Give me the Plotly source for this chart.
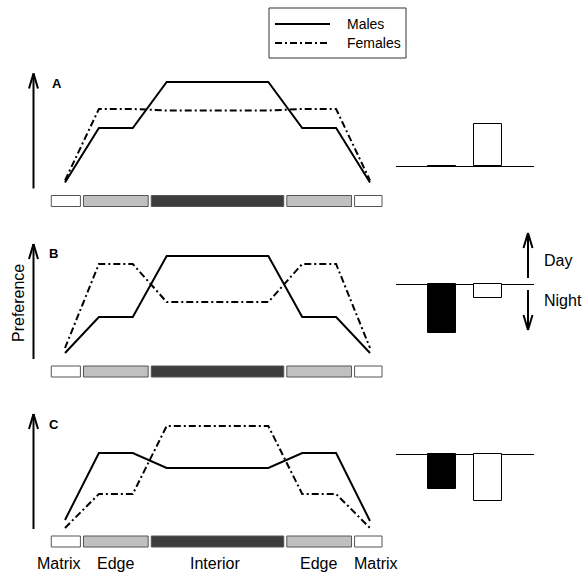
import plotly.graph_objects as go

# ---- data -------------------------------------------------------------
# positions along the transect (matrix | edge | interior | edge | matrix)
transect_x = [0, 1, 2, 3, 6, 7, 8, 9]

# relative preference along the transect, one list per scenario
males_A = [0.0, 5.45, 5.45, 10.05, 10.05, 5.45, 5.45, 0.0]
females_A = [0.2, 7.35, 7.35, 7.2, 7.2, 7.35, 7.35, 0.2]

males_B = [0.0, 3.6, 3.6, 9.7, 9.7, 3.6, 3.6, 0.0]
females_B = [0.5, 8.9, 8.9, 5.1, 5.1, 8.9, 8.9, 0.5]

males_C = [0.3, 7.0, 7.0, 5.5, 5.5, 7.0, 7.0, 0.2]
females_C = [-0.5, 2.9, 2.9, 9.7, 9.7, 2.9, 2.9, -0.5]

# habitat strip
habitat_names = ["Matrix", "Edge", "Interior", "Edge", "Matrix"]
habitat_bounds = [-0.45, 0.5, 2.5, 6.5, 8.5, 9.4]
habitat_colors = ["#ffffff", "#c0c0c0", "#3c3c3c", "#c0c0c0", "#ffffff"]
habitat_label_x = [-0.19, 1.5, 4.43, 7.49, 9.18]

# day/night difference (black = males, white = females)
bar_x = [1, 2]
diff_A = [-0.1, 4.2]
diff_B = [-4.9, -1.4]
diff_C = [-3.5, -4.7]

panel_letters = ["A", "B", "C"]

# ---- layout helpers ---------------------------------------------------
W, H = 583, 574
FONT = "Liberation Sans, Arial, Helvetica, sans-serif"


def fx(px):
    return px / W


def fy(py):
    return 1 - py / H


unit = (370 - 65) / 9.0                 # pixels per transect step
strip_tops = [195.5, 366, 536]          # top of the habitat strip in each row
bar_baselines = [166, 284, 454]         # zero line of the small bar charts
letter_pos = [(57, 83), (53, 254), (54, 424)]

fig = go.Figure()
shapes = []
annotations = []
layout_axes = {}

lines = [(males_A, females_A), (males_B, females_B), (males_C, females_C)]
diffs = [diff_A, diff_B, diff_C]

for i in range(3):
    n = i + 1
    xa = "x" if n == 1 else f"x{n}"
    ya = "y" if n == 1 else f"y{n}"
    top = strip_tops[i]
    males, females = lines[i]

    fig.add_trace(go.Scatter(x=transect_x, y=males, mode="lines",
                             line=dict(color="black", width=2),
                             xaxis=xa, yaxis=ya, showlegend=False,
                             hoverinfo="skip"))
    fig.add_trace(go.Scatter(x=transect_x, y=females, mode="lines",
                             line=dict(color="black", width=2,
                                       dash="7px,3px,2px,3px"),
                             xaxis=xa, yaxis=ya, showlegend=False,
                             hoverinfo="skip"))

    layout_axes["xaxis" if n == 1 else f"xaxis{n}"] = dict(
        domain=[fx(40), fx(395)],
        range=[(40 - 65) / unit, (395 - 65) / unit],
        visible=False, anchor=ya)
    layout_axes["yaxis" if n == 1 else f"yaxis{n}"] = dict(
        domain=[fy(top + 15), fy(top - 130)],
        range=[-2.8, 11.7], visible=False, anchor=xa)

    # habitat strip under the curves
    gap = 0.045
    for k in range(len(habitat_names)):
        shapes.append(dict(type="rect", xref=xa, yref=ya,
                           x0=habitat_bounds[k] + gap,
                           x1=habitat_bounds[k + 1] - gap,
                           y0=-2.4, y1=-1.3,
                           fillcolor=habitat_colors[k],
                           line=dict(color="#555555", width=1), layer="above"))

    # small day/night bar chart
    m = n + 3
    bxa, bya = f"x{m}", f"y{m}"
    fig.add_trace(go.Bar(x=bar_x, y=diffs[i], width=0.61,
                         marker=dict(color=["black", "white"],
                                     line=dict(color="black", width=1)),
                         xaxis=bxa, yaxis=bya, showlegend=False,
                         hoverinfo="skip"))
    b0 = bar_baselines[i]
    layout_axes[f"xaxis{m}"] = dict(domain=[fx(396), fx(534)], range=[0, 3],
                                    visible=False, anchor=bya)
    layout_axes[f"yaxis{m}"] = dict(domain=[fy(b0 + 60), fy(b0 - 60)],
                                    range=[-6, 6], anchor=bxa,
                                    showgrid=False, showticklabels=False,
                                    showline=False, ticks="",
                                    zeroline=True, zerolinecolor="black",
                                    zerolinewidth=1.3)

    # panel letter
    lx, ly = letter_pos[i]
    annotations.append(dict(x=fx(lx), y=fy(ly), xref="paper", yref="paper",
                            text=f"<b>{panel_letters[i]}</b>", showarrow=False,
                            xanchor="center", yanchor="middle",
                            font=dict(family=FONT, size=13, color="black")))


def arrow(x, y_tail, y_head, head_len=15, half_w=4.5, width=2):
    """Vertical arrow with an open chevron head, in pixel coordinates."""
    s = 1 if y_head > y_tail else -1
    base = y_head - s * head_len
    for x0, y0, x1, y1 in [(x, y_tail, x, y_head),
                           (x - half_w, base, x, y_head),
                           (x + half_w, base, x, y_head)]:
        shapes.append(dict(type="line", xref="paper", yref="paper",
                           x0=fx(x0), y0=fy(y0), x1=fx(x1), y1=fy(y1),
                           line=dict(color="black", width=width)))


# preference arrows at the left of each row
for top in strip_tops:
    arrow(33.5, top - 7, top - 122)

# day / night arrows
arrow(528, 278, 233)
arrow(528, 290, 330)
annotations.append(dict(x=fx(542), y=fy(260), xref="paper", yref="paper",
                        text="Day", showarrow=False, xanchor="left",
                        yanchor="middle",
                        font=dict(family=FONT, size=16, color="black")))
annotations.append(dict(x=fx(542), y=fy(300), xref="paper", yref="paper",
                        text="Night", showarrow=False, xanchor="left",
                        yanchor="middle",
                        font=dict(family=FONT, size=16, color="black")))

# y label
annotations.append(dict(x=fx(18), y=fy(303), xref="paper", yref="paper",
                        text="Preference", textangle=-90, showarrow=False,
                        xanchor="center", yanchor="middle",
                        font=dict(family=FONT, size=16, color="black")))

# habitat names under the last row
for name, x in zip(habitat_names, habitat_label_x):
    annotations.append(dict(x=x, y=fy(563), xref="x3", yref="paper",
                            text=name, showarrow=False, xanchor="center",
                            yanchor="middle",
                            font=dict(family=FONT, size=16, color="black")))

# key box
shapes.append(dict(type="rect", xref="paper", yref="paper",
                   x0=fx(269), x1=fx(406), y0=fy(58), y1=fy(8),
                   line=dict(color="#333333", width=1), fillcolor="white",
                   layer="below"))
shapes.append(dict(type="line", xref="paper", yref="paper",
                   x0=fx(275), x1=fx(330), y0=fy(24), y1=fy(24),
                   line=dict(color="black", width=2)))
shapes.append(dict(type="line", xref="paper", yref="paper",
                   x0=fx(275), x1=fx(330), y0=fy(43), y1=fy(43),
                   line=dict(color="black", width=2, dash="7px,3px,2px,3px")))
for label, y in [("Males", 24), ("Females", 43)]:
    annotations.append(dict(x=fx(345), y=fy(y), xref="paper", yref="paper",
                            text=label, showarrow=False, xanchor="left",
                            yanchor="middle",
                            font=dict(family=FONT, size=14, color="black")))

fig.update_layout(
    width=W, height=H,
    margin=dict(l=0, r=0, t=0, b=0),
    paper_bgcolor="white", plot_bgcolor="rgba(0,0,0,0)",
    shapes=shapes, annotations=annotations,
    bargap=0, **layout_axes)

fig.write_html("out.html")
